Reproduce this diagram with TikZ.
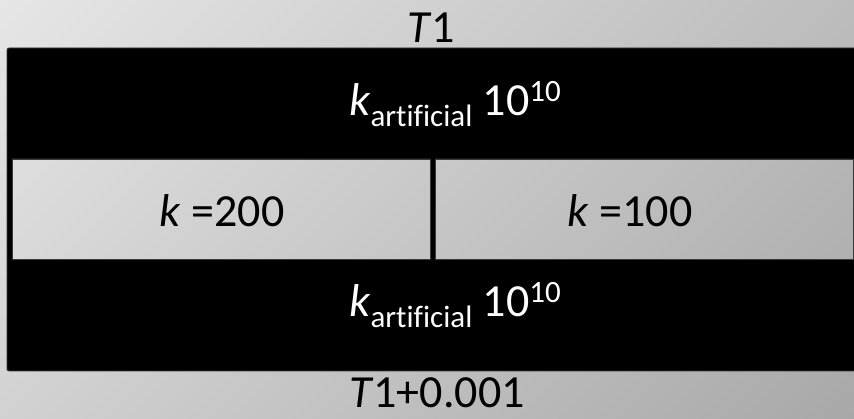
\documentclass[tikz,border=0pt]{standalone}
\usepackage{fontspec}
\setmainfont[Ligatures=NoCommon]{Carlito}
\usetikzlibrary{positioning, calc}
\definecolor{BgLight}{HTML}{E6E6E6}
\definecolor{BgDark}{HTML}{A8A8A8}
\definecolor{Edge}{HTML}{3A3A3A}
\newcommand{\kfont}{\fontsize{46}{55}\selectfont}
\newcommand{\lowtxt}[1]{\raisebox{-0.22em}{\fontsize{31}{32}\selectfont #1}}
\newcommand{\hightxt}[1]{\raisebox{0.31em}{\fontsize{31}{32}\selectfont #1}}
% diagonaler Verlauf, hell oben links, dunkel unten rechts
\newcommand{\bgverlauf}{\shade[left color=BgLight, right color=BgDark, transform canvas={rotate=-45}] (0,-700) rectangle (900,700);}
\tikzset{
    txt/.style={anchor=base, inner sep=0pt, font=\kfont, text=black},
    whitetxt/.style={txt, text=white},
    band/.style={fill=black, draw=Edge, line width=0.8pt, rounded corners=2pt},
    cell/.style={draw=Edge, line width=0.8pt},
}
\begin{document}
\begin{tikzpicture}[x=1pt, y=-1pt]
    % Hintergrund
    \useasboundingbox (0,0) rectangle (854,419);
    \begin{scope}
        \clip (0,0) rectangle (854,419);
        \bgverlauf
    \end{scope}

    % Schichten: oben und unten schwarz, Mitte zwei Zellen
    \draw[band] (7,48) rectangle (862,371);
    \begin{scope}
        \clip (12,159) rectangle (430,259) (435,159) rectangle (853,259);
        \bgverlauf
    \end{scope}
    \draw[cell] (12,159) rectangle (430,259);
    \draw[cell] (435,159) rectangle (853,259);

    % Beschriftungen
    \node[txt] (tOben) at (431,43) {\textit{T}1};
    \node[whitetxt] (kOben) at (455,116) {\textit{k}\lowtxt{artificial} 10\hightxt{10}};
    \node[txt] (kLinks) at (222,227) {\textit{k} =200};
    \node[txt] (kRechts) at (630,227) {\textit{k} =100};
    \node[whitetxt] (kUnten) at (455,317) {\textit{k}\lowtxt{artificial} 10\hightxt{10}};
    \node[txt] (tUnten) at (437,407) {\textit{T}1+0.001};
\end{tikzpicture}
\end{document}
